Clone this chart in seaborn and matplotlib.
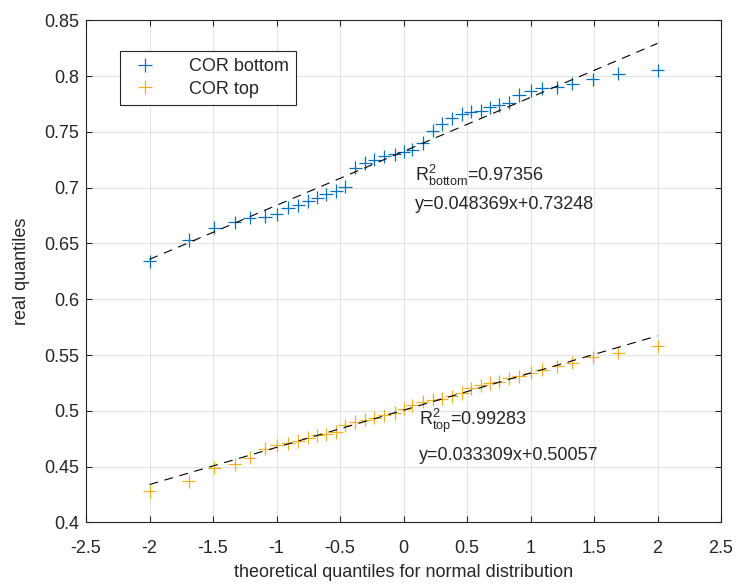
import numpy as np
import pandas as pd
import matplotlib
matplotlib.use("Agg")
import matplotlib.pyplot as plt
import seaborn as sns

# theoretical quantiles (shared by both series)
quantiles = [-2.0, -1.69, -1.49, -1.33, -1.21, -1.09, -1.0, -0.91, -0.83, -0.75,
             -0.68, -0.61, -0.53, -0.46, -0.38, -0.30, -0.23, -0.15, -0.07, 0.0,
             0.07, 0.15, 0.23, 0.30, 0.38, 0.46, 0.53, 0.61, 0.68, 0.75,
             0.83, 0.91, 1.0, 1.09, 1.21, 1.33, 1.49, 1.69, 2.0]

# real quantiles
cor_bottom = [0.634, 0.653, 0.664, 0.669, 0.673, 0.674, 0.676, 0.682, 0.684, 0.688,
              0.691, 0.694, 0.697, 0.701, 0.718, 0.722, 0.725, 0.728, 0.730, 0.732,
              0.734, 0.740, 0.751, 0.757, 0.762, 0.766, 0.768, 0.769, 0.772, 0.774,
              0.776, 0.783, 0.787, 0.789, 0.790, 0.793, 0.797, 0.802, 0.805]
cor_top = [0.428, 0.437, 0.449, 0.452, 0.458, 0.466, 0.469, 0.471, 0.473, 0.476,
           0.478, 0.479, 0.481, 0.487, 0.490, 0.492, 0.494, 0.496, 0.498, 0.502,
           0.505, 0.508, 0.510, 0.511, 0.513, 0.516, 0.520, 0.523, 0.525, 0.526,
           0.529, 0.531, 0.534, 0.537, 0.540, 0.543, 0.548, 0.552, 0.558]

# fitted lines
fit_bottom = (0.048369, 0.73248)
fit_top = (0.033309, 0.50057)
r2_bottom = 0.97356
r2_top = 0.99283

series_names = ["COR bottom", "COR top"]
colors = {"COR bottom": "#0072BD", "COR top": "#EDB120"}

df = pd.DataFrame({
    "theoretical": quantiles * 2,
    "real": cor_bottom + cor_top,
    "series": ["COR bottom"] * len(quantiles) + ["COR top"] * len(quantiles),
})

sns.set_theme(style="whitegrid")
plt.rcParams["font.family"] = ["Liberation Sans", "DejaVu Sans"]
plt.rcParams["mathtext.fontset"] = "custom"
plt.rcParams["mathtext.rm"] = "Liberation Sans"
plt.rcParams["mathtext.it"] = "Liberation Sans"

fig = plt.figure(figsize=(7.37, 5.86), dpi=100)
ax = fig.add_axes([0.1167, 0.1085, 0.8616, 0.857])

sns.scatterplot(data=df, x="theoretical", y="real", hue="series",
                hue_order=series_names, palette=colors, marker="+",
                s=90, linewidth=0.9, ax=ax, zorder=3)

xl = np.array([min(quantiles), max(quantiles)])
for slope, icpt in (fit_bottom, fit_top):
    ax.plot(xl, slope * xl + icpt, color="black", linestyle=(0, (8, 6)),
            linewidth=0.8, zorder=4)

fs = 13
ax.text(0.09, 0.7113, r"$\mathregular{R^2_{bottom}}$=%.5f" % r2_bottom,
        fontsize=fs, va="center", ha="left")
ax.text(0.09, 0.6853, "y=%gx+%g" % fit_bottom, fontsize=fs, va="center", ha="left")
ax.text(0.12, 0.4909, r"$\mathregular{R^2_{top}}$=%.5f" % r2_top,
        fontsize=fs, va="center", ha="left")
ax.text(0.12, 0.4604, "y=%gx+%g" % fit_top, fontsize=fs, va="center", ha="left")

ax.set_xlim(-2.5, 2.5)
ax.set_ylim(0.4, 0.85)
ax.set_xticks(np.arange(-2.5, 2.51, 0.5))
ax.set_yticks(np.arange(0.4, 0.851, 0.05))
ax.set_xticklabels(["-2.5", "-2", "-1.5", "-1", "-0.5", "0", "0.5", "1", "1.5", "2", "2.5"])
ax.set_yticklabels(["0.4", "0.45", "0.5", "0.55", "0.6", "0.65", "0.7", "0.75", "0.8", "0.85"])
ax.set_xlabel("theoretical quantiles for normal distribution", fontsize=fs,
              color="#262626", labelpad=5)
ax.set_ylabel("real quantiles", fontsize=fs, color="#262626", labelpad=10)

ax.set_facecolor("white")
ax.grid(True, color="#e3e3e3", linewidth=0.8)
for sp in ax.spines.values():
    sp.set_color("#262626")
    sp.set_linewidth(0.8)
ax.tick_params(direction="in", length=4, width=0.8, color="#262626",
               labelsize=fs, labelcolor="#262626", top=True, right=True,
               bottom=True, left=True, pad=5)
ax.tick_params(axis="x", pad=13)

leg = ax.legend(loc="upper left", bbox_to_anchor=(0.0535, 0.9387), fontsize=fs,
                frameon=True, fancybox=False, edgecolor="#262626",
                borderaxespad=0, handletextpad=1.4, markerscale=1.0,
                borderpad=0.4, labelspacing=0.3)
leg.get_frame().set_linewidth(0.8)
leg.get_frame().set_alpha(1)

fig.savefig("out.png", dpi=100)
